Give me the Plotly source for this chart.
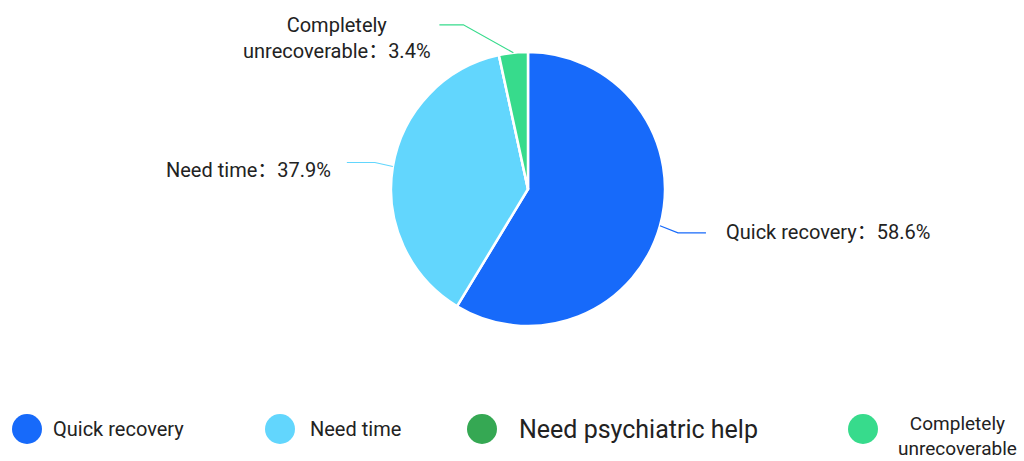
import math
import plotly.graph_objects as go

# ---- data ----
categories = ["Quick recovery", "Need time", "Need psychiatric help", "Completely unrecoverable"]
values = [58.6, 37.9, 0.0, 3.4]
colors = ["#176AFA", "#62D6FD", "#35A853", "#37DB8C"]
label_texts = ["Quick recovery", "Need time", None, "Completely<br>unrecoverable"]
legend_texts = ["Quick recovery", "Need time", "Need psychiatric help", "Completely<br>unrecoverable"]

W, H = 1024, 461
FONT = "Roboto, 'Noto Sans CJK SC', sans-serif"
TXT = "#222222"

# pie geometry (pixels)
cx, cy, R = 528, 189, 137

fig = go.Figure()
fig.add_trace(go.Pie(
    labels=categories, values=values, sort=False, direction="clockwise", rotation=0,
    marker=dict(colors=colors, line=dict(color="white", width=2.5)),
    textinfo="none", hoverinfo="label+percent", showlegend=False,
    domain=dict(x=[(cx - R) / W, (cx + R) / W], y=[1 - (cy + R) / H, 1 - (cy - R) / H]),
))

def px(x):
    return x / W

def py(y):
    return 1 - y / H

# leader lines + labels (elbow offsets, horizontal run, label gap, label dy) per slice
leader = {
    0: dict(elbow=(18, 7), run=28, gap=18, dy=-1),
    1: dict(elbow=(-18, -4), run=-28, gap=-14, dy=8),
    3: dict(elbow=(-50, -28), run=-24, gap=-6, dy=13),
}
total = sum(values)
cum = 0.0
shapes = []
annotations = []
for i, (cat, v) in enumerate(zip(categories, values)):
    mid = (cum + v / 2) / total
    cum += v
    if v <= 0 or i not in leader:
        continue
    ang = 2 * math.pi * mid
    x0 = cx + R * math.sin(ang)
    y0 = cy - R * math.cos(ang)
    cfg = leader[i]
    x1, y1 = x0 + cfg["elbow"][0], y0 + cfg["elbow"][1]
    x2 = x1 + cfg["run"]
    path = f"M {px(x0)} {py(y0)} L {px(x1)} {py(y1)} L {px(x2)} {py(y1)}"
    shapes.append(dict(type="path", xref="paper", yref="paper", path=path,
                       line=dict(color=colors[i], width=1.2)))
    txt = f"{label_texts[i]}：{v}%"
    annotations.append(dict(x=px(x2 + cfg["gap"]), y=py(y1 + cfg["dy"]), xref="paper", yref="paper",
                            text=txt, showarrow=False,
                            xanchor="left" if cfg["gap"] > 0 else "right", yanchor="middle",
                            align="center", font=dict(family=FONT, size=20, color=TXT)))

# custom legend
leg_cx = [27, 280, 482, 863]
leg_tx = [51, 308, 517, 957]
leg_size = [20, 20, 25, 19]
leg_y = 429
for i, cat in enumerate(categories):
    shapes.append(dict(type="circle", xref="paper", yref="paper",
                       xsizemode="pixel", ysizemode="pixel",
                       xanchor=px(leg_cx[i]), yanchor=py(leg_y),
                       x0=-15, x1=15, y0=-15, y1=15,
                       fillcolor=colors[i], line=dict(width=0)))
    if i == 3:
        annotations.append(dict(x=px(leg_tx[i]), y=py(leg_y + 7), xref="paper", yref="paper",
                                text=legend_texts[i], showarrow=False, xanchor="center", yanchor="middle",
                                align="center", font=dict(family=FONT, size=leg_size[i], color=TXT)))
    else:
        annotations.append(dict(x=px(leg_tx[i]), y=py(leg_y), xref="paper", yref="paper",
                                text=legend_texts[i], showarrow=False, xanchor="left", yanchor="middle",
                                font=dict(family=FONT, size=leg_size[i], color=TXT)))

fig.update_layout(
    width=W, height=H, margin=dict(l=0, r=0, t=0, b=0),
    paper_bgcolor="white", plot_bgcolor="white",
    shapes=shapes, annotations=annotations, showlegend=False,
)
fig.write_html("out.html")
